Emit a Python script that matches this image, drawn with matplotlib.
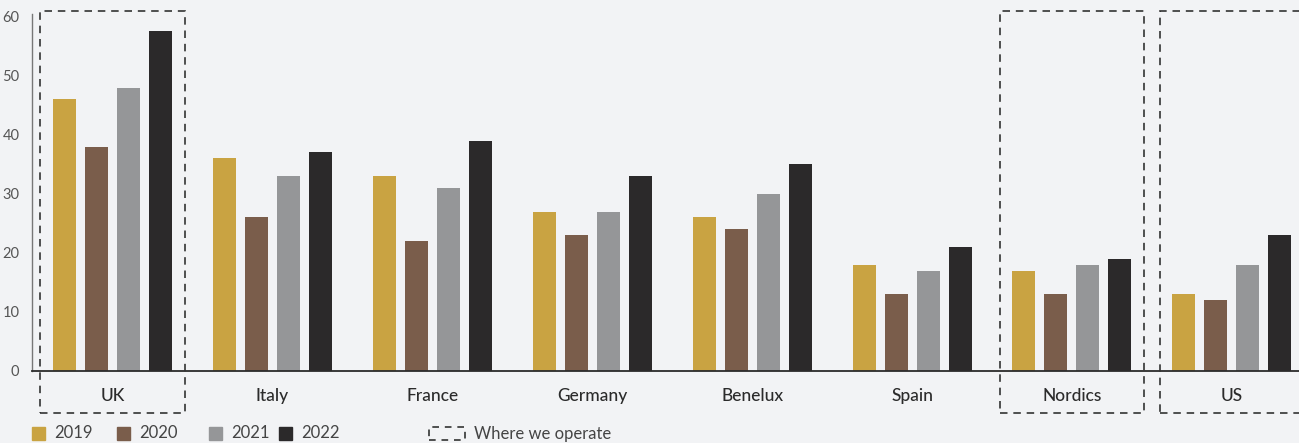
import matplotlib
matplotlib.use("Agg")
import matplotlib.pyplot as plt
from matplotlib.patches import Rectangle
import numpy as np

plt.rcParams['font.family'] = ['Lato', 'DejaVu Sans']

categories = ["UK", "Italy", "France", "Germany", "Benelux", "Spain", "Nordics", "US"]
years = ["2019", "2020", "2021", "2022"]
v2019 = [46, 36, 33, 27, 26, 18, 17, 13]
v2020 = [38, 26, 22, 23, 24, 13, 13, 12]
v2021 = [48, 33, 31, 27, 30, 17, 18, 18]
v2022 = [57.5, 37, 39, 33, 35, 21, 19, 23]
operated = ["UK", "Nordics", "US"]
yticks = [0, 10, 20, 30, 40, 50, 60]

colors = ["#c9a342", "#7a5d4b", "#959698", "#2b292a"]
bg = "#f2f3f5"

W, H = 1299, 443
fig = plt.figure(figsize=(W / 100, H / 100), dpi=100, facecolor=bg)
ax = fig.add_axes([32 / W, (H - 371) / H, (W - 32) / W, (371 - 14) / H])
ax.set_facecolor(bg)

x = np.arange(len(categories))
step, width = 0.2, 0.144
for i, (vals, c) in enumerate(zip([v2019, v2020, v2021, v2022], colors)):
    ax.bar(x + (i - 1.5) * step, vals, width=width, color=c, zorder=2)

ax.set_xlim(-0.504, 7.42)
ax.set_ylim(0, 60.45)
ax.set_yticks(yticks)
ax.set_yticklabels([str(t) for t in yticks], fontsize=10.5, color="#555555")
ax.set_xticks(x)
ax.set_xticklabels(categories, fontsize=12.5, color="#2b2b2b", fontweight="medium")
ax.tick_params(axis="y", length=0, pad=9)
ax.tick_params(axis="x", length=0, pad=12)
for s in ["top", "right"]:
    ax.spines[s].set_visible(False)
ax.spines["left"].set_color("#777777")
ax.spines["left"].set_linewidth(1.0)
ax.spines["bottom"].set_color("#2b2b2b")
ax.spines["bottom"].set_linewidth(1.3)

# dashed outlines around the markets where we operate
half = 0.452
for name in operated:
    k = categories.index(name)
    ax.add_patch(Rectangle((k - half, -7.1), 2 * half, 68.1, fill=False,
                           ls=(0, (4.5, 3.5)), lw=1.2, edgecolor="#333333",
                           clip_on=False, zorder=3))

# legend
ly = (H - 433.5) / H
sq = 13
for xs, lab, c in zip([32, 117, 209, 279], years, colors):
    fig.patches.append(Rectangle((xs / W, (H - 440) / H), sq / W, sq / H,
                                 transform=fig.transFigure, color=c, figure=fig))
    fig.text((xs + 22) / W, ly, lab, fontsize=12, color="#444444", va="center")
fig.patches.append(Rectangle((429 / W, (H - 440) / H), 36 / W, 13 / H,
                             transform=fig.transFigure, fill=False, ls=(0, (4, 3.5)),
                             lw=1.2, edgecolor="#333333", figure=fig))
fig.text(474 / W, ly, "Where we operate", fontsize=12, color="#444444", va="center")

fig.savefig("out.png", dpi=100, facecolor=bg)
